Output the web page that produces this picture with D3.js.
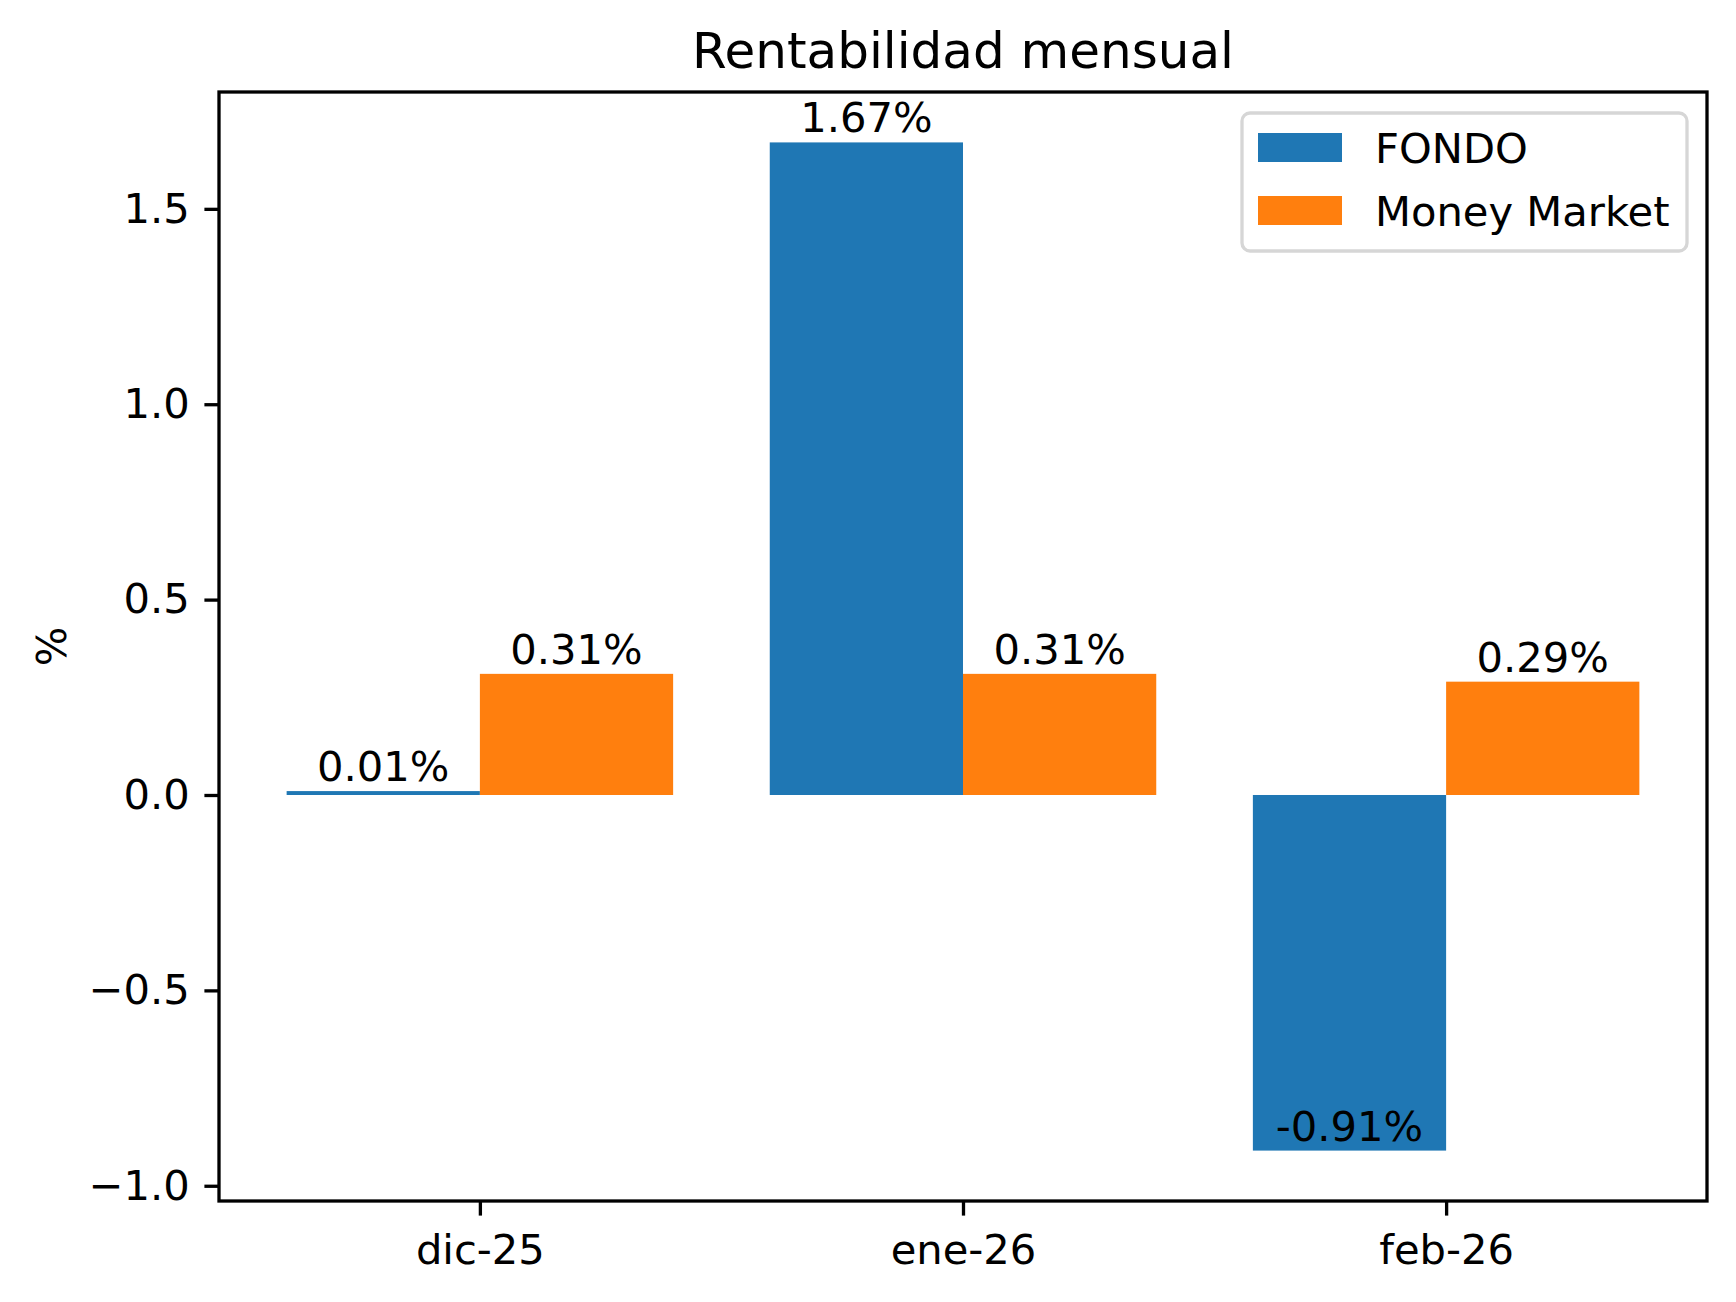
<!DOCTYPE html>
<html>
<head>
<meta charset="utf-8">
<script src="https://cdn.jsdelivr.net/npm/d3@7"></script>
<style>
  html, body { margin: 0; padding: 0; background: #fff; }
  svg { display: block; font-family: "DejaVu Sans", sans-serif; }
</style>
</head>
<body>
<svg id="chart" width="1736" height="1302"></svg>
<script>
// ---- data ----
const categories = ["dic-25", "ene-26", "feb-26"];
const fondo = [0.01, 1.67, -0.91];
const moneyMarket = [0.31, 0.31, 0.29];
const fondoLabels = ["0.01%", "1.67%", "-0.91%"];
const moneyMarketLabels = ["0.31%", "0.31%", "0.29%"];
const yTicks = [-1.0, -0.5, 0.0, 0.5, 1.0, 1.5];
const seriesNames = ["FONDO", "Money Market"];
const seriesColors = ["#1f77b4", "#ff7f0e"];

// ---- layout ----
const W = 1736, H = 1302;
const axLeft = 219, axRight = 1707, axTop = 92, axBottom = 1201;
const fs = 41.67;     // 10pt at 300 dpi
const tick = 14.6;    // 3.5pt
const lw = 3.3;       // 0.8pt
const barW = 0.4;

const svg = d3.select("#chart");
svg.append("rect").attr("width", W).attr("height", H).attr("fill", "#fff");

const x = d3.scaleLinear().domain([-0.54, 2.54]).range([axLeft, axRight]);
const y = d3.scaleLinear().domain([-1.039, 1.799]).range([axBottom, axTop]);

const series = [
  { name: seriesNames[0], values: fondo, labels: fondoLabels, color: seriesColors[0], offset: -barW / 2 },
  { name: seriesNames[1], values: moneyMarket, labels: moneyMarketLabels, color: seriesColors[1], offset: barW / 2 }
];

// bars
series.forEach(s => {
  svg.append("g").selectAll("rect")
    .data(s.values)
    .join("rect")
    .attr("x", (d, i) => x(i + s.offset - barW / 2))
    .attr("width", (d, i) => x(i + s.offset + barW / 2) - x(i + s.offset - barW / 2))
    .attr("y", d => Math.min(y(d), y(0)))
    .attr("height", d => Math.abs(y(d) - y(0)))
    .attr("fill", s.color);
});

// bar labels (text bottom at value)
series.forEach(s => {
  svg.append("g").selectAll("text")
    .data(s.values)
    .join("text")
    .attr("x", (d, i) => x(i + s.offset))
    .attr("y", d => y(d) - 10)
    .attr("text-anchor", "middle")
    .attr("font-size", fs)
    .attr("fill", "#000")
    .text((d, i) => s.labels[i]);
});

// y axis
const yAxis = d3.axisLeft(y).tickValues(yTicks).tickFormat(d3.format(".1f")).tickSize(tick).tickPadding(tick);
const gy = svg.append("g").attr("transform", `translate(${axLeft},0)`).call(yAxis);
gy.select(".domain").remove();
gy.selectAll(".tick line").attr("stroke", "#000").attr("stroke-width", lw);
gy.selectAll(".tick text").attr("font-size", fs).attr("fill", "#000").attr("font-family", "DejaVu Sans");

// x axis
const xAxis = d3.axisBottom(x).tickValues([0, 1, 2]).tickFormat(i => categories[i]).tickSize(tick).tickPadding(tick);
const gx = svg.append("g").attr("transform", `translate(0,${axBottom})`).call(xAxis);
gx.select(".domain").remove();
gx.selectAll(".tick line").attr("stroke", "#000").attr("stroke-width", lw);
gx.selectAll(".tick text").attr("font-size", fs).attr("fill", "#000")
  .attr("font-family", "DejaVu Sans").attr("y", 63).attr("dy", null);

// frame
svg.append("rect")
  .attr("x", axLeft).attr("y", axTop)
  .attr("width", axRight - axLeft).attr("height", axBottom - axTop)
  .attr("fill", "none").attr("stroke", "#000").attr("stroke-width", lw);

// title
svg.append("text")
  .attr("x", (axLeft + axRight) / 2).attr("y", 68)
  .attr("text-anchor", "middle").attr("font-size", 50).attr("fill", "#000")
  .text("Rentabilidad mensual");

// y label
svg.append("text")
  .attr("transform", `translate(66,${(axTop + axBottom) / 2}) rotate(-90)`)
  .attr("text-anchor", "middle").attr("font-size", fs).attr("fill", "#000")
  .text("%");

// legend
const lg = svg.append("g");
lg.append("rect")
  .attr("x", 1242).attr("y", 113).attr("width", 1687 - 1242).attr("height", 251 - 113)
  .attr("rx", 8).attr("ry", 8)
  .attr("fill", "#fff").attr("fill-opacity", 0.8)
  .attr("stroke", "#d6d6d6").attr("stroke-width", lw);
const rowY = [133, 196];
series.forEach((s, k) => {
  lg.append("rect").attr("x", 1258).attr("y", rowY[k]).attr("width", 84).attr("height", 29).attr("fill", s.color);
  lg.append("text").attr("x", 1375).attr("y", rowY[k] + 30)
    .attr("font-size", fs).attr("fill", "#000").text(s.name);
});
</script>
</body>
</html>
